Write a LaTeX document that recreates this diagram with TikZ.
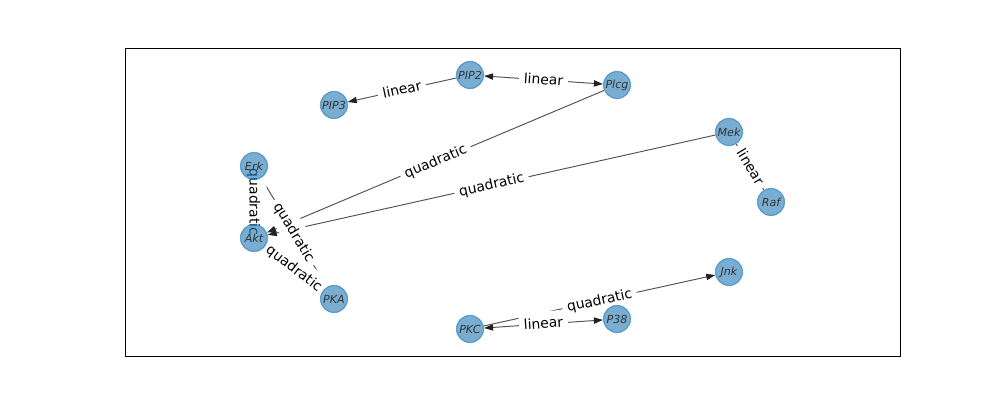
\documentclass[tikz,border=0pt]{standalone}
\usepackage{fontspec}
\setmainfont{DejaVu Sans}
\usetikzlibrary{arrows.meta}
\definecolor{nodeblue}{HTML}{1F77B4}
\definecolor{edgegray}{HTML}{555555}
\definecolor{tipgray}{HTML}{222222}
\pgfdeclarelayer{edgelayer}
\pgfdeclarelayer{labellayer}
\pgfsetlayers{edgelayer,labellayer,main}
\tikzset{
 gene/.style={circle, minimum size=19.5pt, inner sep=0pt, fill=nodeblue, draw=nodeblue, line width=0.8pt, fill opacity=0.6, draw opacity=0.6, text opacity=1, text=black!80, font=\itshape\fontsize{8}{9}\selectfont},
 link/.style={draw=edgegray, line width=0.7pt},
 arr/.style={-{Triangle[length=6.5pt,width=4.5pt,color=tipgray]}},
 both/.style={{Triangle[length=6.5pt,width=4.5pt,color=tipgray]}-{Triangle[length=6.5pt,width=4.5pt,color=tipgray]}},
 elabel/.style={sloped, midway, fill=white, inner xsep=3.5pt, inner ysep=3.5pt, text height=1.6ex, text depth=0.45ex, rounded corners=3pt, text=black, font=\fontsize{10}{12}\selectfont}
}
\begin{document}
\begin{tikzpicture}[x=0.72pt,y=-0.72pt]
\useasboundingbox (0,0) rectangle (1000,400);
\draw[line width=0.7pt] (125,48) rectangle (900,356);
% nodes
\node[gene] (Erk)  at (254,166) {Erk};
\node[gene] (Akt)  at (254,238) {Akt};
\node[gene] (PKA)  at (334,299) {PKA};
\node[gene] (PIP3) at (334,105) {PIP3};
\node[gene] (PIP2) at (470,75)  {PIP2};
\node[gene] (Plcg) at (617,85)  {Plcg};
\node[gene] (Mek)  at (729,132) {Mek};
\node[gene] (Raf)  at (771,202) {Raf};
\node[gene] (Jnk)  at (729,272) {Jnk};
\node[gene] (P38)  at (617,319) {P38};
\node[gene] (PKC)  at (470,329) {PKC};
% edges
\begin{pgfonlayer}{edgelayer}
\draw[link,arr]  (PIP2) -- (PIP3);
\draw[link,both] (PIP2) -- (Plcg);
\draw[link,arr]  (Plcg) -- (Akt);
\draw[link,arr]  (Mek) -- (Akt);
\draw[link]      (Mek) -- (Raf);
\draw[link]      (Erk) -- (Akt);
\draw[link]      (Erk) -- (PKA);
\draw[link]      (PKA) -- (Akt);
\draw[link,both] (PKC) -- (P38);
\draw[link,arr]  (PKC) -- (Jnk);
\end{pgfonlayer}
% labels
\begin{pgfonlayer}{labellayer}
\path (PIP2) -- node[elabel]{linear} (PIP3);
\path (PIP2) -- node[elabel]{linear} (Plcg);
\path (Plcg) -- node[elabel]{quadratic} (Akt);
\path (Mek) -- node[elabel]{quadratic} (Akt);
\path (Mek) -- node[elabel]{linear} (Raf);
\path (Erk) -- node[elabel]{quadratic} (Akt);
\path (Erk) -- node[elabel]{quadratic} (PKA);
\path (PKA) -- node[elabel]{quadratic} (Akt);
\path (PKC) -- node[elabel]{linear} (P38);
\path (PKC) -- node[elabel]{quadratic} (Jnk);
\end{pgfonlayer}
\end{tikzpicture}
\end{document}
